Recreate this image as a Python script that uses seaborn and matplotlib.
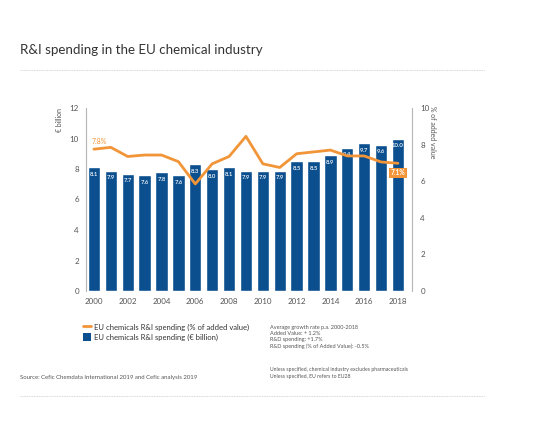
import numpy as np
import pandas as pd
import matplotlib
matplotlib.use("Agg")
import matplotlib.pyplot as plt
import seaborn as sns
from matplotlib.lines import Line2D
from matplotlib.patches import Patch

years = [str(y) for y in range(2000, 2019)]
spend_bn = [8.1, 7.9, 7.7, 7.6, 7.8, 7.6, 8.3, 8.0, 8.1, 7.9, 7.9, 7.9, 8.5, 8.5, 8.9, 9.4, 9.7, 9.6, 10.0]
spend_pct = [7.75, 7.85, 7.35, 7.43, 7.43, 7.07, 5.85, 6.95, 7.35, 8.45, 6.95, 6.75, 7.5, 7.6, 7.7, 7.38, 7.38, 7.05, 6.98]
bar_labels = ["8.1", "7.9", "7.7", "7.6", "7.8", "7.6", "8.3", "8.0", "8.1", "7.9", "7.9", "7.9",
              "8.5", "8.5", "8.9", "9.4", "9.7", "9.6", "10.0"]
left_ticks = [0, 2, 4, 6, 8, 10, 12]
right_ticks = [0, 2, 4, 6, 8, 10]

title = "R&I spending in the EU chemical industry"
legend_labels = ["EU chemicals R&I spending (% of added value)", "EU chemicals R&I spending (\u20ac billion)"]
growth_text = ["Average growth rate p.a. 2000-2018", "Added Value: + 1.2%", "R&D spending: +1.7%",
               "R&D spending (% of Added Value): -0.5%"]
notes_text = ["Unless specified, chemical industry excludes pharmaceuticals", "Unless specified, EU refers to EU28"]
source_text = "Source: Cefic Chemdata International 2019 and Cefic analysis 2019"

BLUE = "#0b4f8f"
ORANGE = "#f29538"
GREY = "#555555"

sns.set_style("white")
plt.rcParams['font.family'] = ['Lato', 'DejaVu Sans']

fig = plt.figure(figsize=(5.4, 4.37), dpi=100)
W, H = 540, 437
ax = fig.add_axes([86 / W, 1 - 291 / H, (412 - 86) / W, (291 - 108) / H])

df = pd.DataFrame({"year": years, "bn": spend_bn, "pct": spend_pct})
sns.barplot(data=df, x="year", y="bn", color=BLUE, saturation=1, width=0.73, ax=ax)
ax.set_ylim(0, 12)
ax.set_xlim(-0.47, 18.83)
ax.set_yticks(left_ticks)
ax.set_yticklabels([str(t) for t in left_ticks])
ax.set_xticks(range(0, 19, 2))
ax.set_xticklabels(years[::2])
ax.set_xlabel("")
ax.set_ylabel("")
ax.tick_params(axis='both', length=0, labelsize=5.8, colors=GREY, pad=5)

for i, (v, lab) in enumerate(zip(spend_bn, bar_labels)):
    ax.text(i, v - 0.3, lab, ha='center', va='top', color='white', fontsize=4.3, fontweight='semibold')

ax2 = ax.twinx()
sns.lineplot(x=np.arange(len(years)), y=spend_pct, color=ORANGE, linewidth=2.0, ax=ax2)
ax2.set_ylim(0, 10)
ax2.set_yticks(right_ticks)
ax2.set_yticklabels([str(t) for t in right_ticks])
ax2.tick_params(axis='y', length=0, labelsize=5.8, colors=GREY, pad=6)
ax2.set_xlim(-0.47, 18.83)

for a in (ax, ax2):
    for s in ("top", "bottom"):
        a.spines[s].set_visible(False)
    a.spines["left"].set_color("#b5b5b5")
    a.spines["right"].set_color("#b5b5b5")
    a.spines["left"].set_linewidth(0.8)
    a.spines["right"].set_linewidth(0.8)
ax2.spines["left"].set_visible(False)
ax.spines["right"].set_visible(False)

ax2.text(0.3, 8.15, "7.8%", ha='center', va='center', color=ORANGE, fontsize=5)
ax2.text(18, 6.45, "7.1%", ha='center', va='center', color='white', fontsize=4.8, fontweight='bold',
         bbox=dict(boxstyle='square,pad=0.25', fc=ORANGE, ec='none'))

fig.text(60 / W, 1 - 120 / H, "\u20ac billion", rotation=90, ha='center', va='center', fontsize=5, color=GREY)
fig.text(432 / W, 1 - 132 / H, "% of added value", rotation=-90, ha='center', va='center', fontsize=5, color=GREY)

fig.text(20 / W, 1 - 50 / H, title, ha='left', va='center', fontsize=9.6, color="#333333")

for y in (70, 396):
    fig.add_artist(Line2D([20 / W, 485 / W], [1 - y / H, 1 - y / H], transform=fig.transFigure,
                          linestyle=(0, (1, 1)), color="#c8c8c8", linewidth=0.6))

handles = [Line2D([0], [0], color=ORANGE, linewidth=2), Patch(facecolor=BLUE, edgecolor='none')]
fig.legend(handles, legend_labels, loc='upper left', bbox_to_anchor=(80 / W, 1 - 320 / H), frameon=False,
           fontsize=5.5, labelcolor="#333333", handlelength=1.0, handleheight=1.2, handletextpad=0.4,
           labelspacing=0.3, borderaxespad=0)

for k, t in enumerate(growth_text):
    fig.text(270 / W, 1 - (327 + 6.5 * k) / H, t, ha='left', va='center', fontsize=4, color=GREY)
for k, t in enumerate(notes_text):
    fig.text(270 / W, 1 - (370 + 6.5 * k) / H, t, ha='left', va='center', fontsize=3.7, color=GREY)
fig.text(20 / W, 1 - 378 / H, source_text, ha='left', va='center', fontsize=4.3, color=GREY)

fig.savefig("out.png", dpi=100)
